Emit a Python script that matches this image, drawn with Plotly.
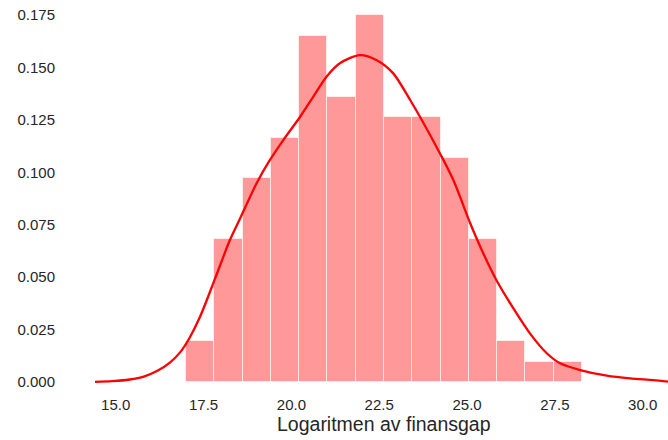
import plotly.graph_objects as go

# Histogram (density)
bin_edges = [17.00, 17.805, 18.61, 19.415, 20.22, 21.025, 21.83, 22.635,
             23.44, 24.245, 25.05, 25.855, 26.66, 27.465, 28.27]
densities = [0.0194, 0.0680, 0.0972, 0.1166, 0.1652, 0.1360, 0.1749,
             0.1263, 0.1263, 0.1069, 0.0680, 0.0194, 0.0097, 0.0097]

# KDE curve
kde_x = [14.41, 14.90, 15.40, 15.80, 16.20, 16.55, 16.85, 17.10, 17.40,
         17.83, 18.25, 18.54, 19.01, 19.39, 19.77, 20.25, 20.62, 21.00,
         21.38, 21.95, 22.43, 22.90, 23.38, 23.66, 24.23, 24.61, 25.09,
         25.46, 25.85, 26.32, 26.79, 27.27, 27.65, 28.22, 28.98, 29.64,
         30.30, 30.73]
kde_y = [0.0001, 0.0004, 0.0012, 0.0026, 0.0055, 0.0094, 0.0145, 0.0210,
         0.0311, 0.0494, 0.0677, 0.0780, 0.0948, 0.1059, 0.1154, 0.1265,
         0.1360, 0.1456, 0.1520, 0.1559, 0.1535, 0.1472, 0.1345, 0.1265,
         0.1090, 0.0963, 0.0757, 0.0614, 0.0482, 0.0351, 0.0232, 0.0137,
         0.0089, 0.0057, 0.0030, 0.0017, 0.0009, 0.0002]

x_ticks = [15.0, 17.5, 20.0, 22.5, 25.0, 27.5, 30.0]
y_ticks = [0.000, 0.025, 0.050, 0.075, 0.100, 0.125, 0.150, 0.175]
x_title = "Logaritmen av finansgap"

centers = [(a + b) / 2 for a, b in zip(bin_edges[:-1], bin_edges[1:])]
widths = [b - a for a, b in zip(bin_edges[:-1], bin_edges[1:])]

fig = go.Figure()
fig.add_trace(go.Bar(
    x=centers, y=densities, width=widths,
    marker=dict(color="#ff9999", line=dict(color="rgba(255,255,255,0.6)", width=1)),
    hoverinfo="skip", showlegend=False,
))
fig.add_trace(go.Scatter(
    x=kde_x, y=kde_y, mode="lines",
    line=dict(color="#ff0000", width=2.3, shape="spline", smoothing=0.8),
    showlegend=False,
))

font = dict(family="Liberation Sans, Arial, sans-serif", size=15, color="#262626")
fig.update_layout(
    width=668, height=440,
    margin=dict(l=66, r=0, t=5, b=50),
    paper_bgcolor="white", plot_bgcolor="white",
    font=font,
    bargap=0,
    xaxis=dict(range=[13.585, 30.72], tickvals=x_ticks,
               ticktext=[f"{v:.1f}" for v in x_ticks],
               showgrid=False, zeroline=False, showline=False, ticks="",
               ticklabelstandoff=4),
    yaxis=dict(range=[-0.00381, 0.1798], tickvals=y_ticks,
               ticktext=[f"{v:.3f}" for v in y_ticks],
               showgrid=False, zeroline=False, showline=False, ticks="",
               ticklabelstandoff=10),
    annotations=[dict(text=x_title, xref="paper", yref="paper",
                      x=0.529, y=0, yshift=-34, xanchor="center", yanchor="middle",
                      showarrow=False, font=dict(family=font["family"], size=19.5, color="#262626"))],
)

fig.write_html("out.html", config={"displayModeBar": False},
               post_script="document.body.style.margin='0px';")
